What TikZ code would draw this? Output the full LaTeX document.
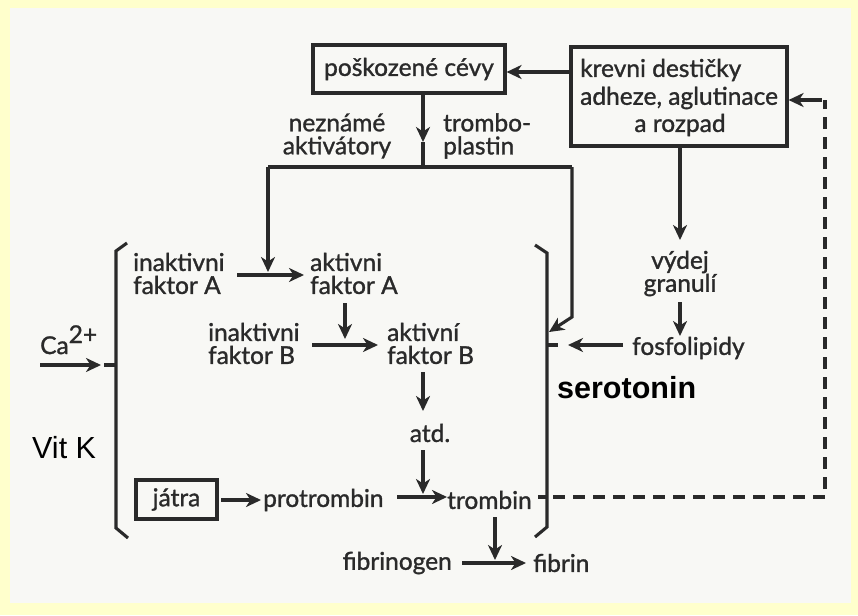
\documentclass[tikz,border=0pt]{standalone}
\usepackage{fontspec}
\setmainfont[FakeBold=1.2]{Lato}
\newfontfamily\arialfont{Liberation Sans}
\usetikzlibrary{arrows.meta}
\definecolor{ink}{HTML}{2A2A2A}
\definecolor{bordery}{HTML}{FFFFCC}
\definecolor{paper}{HTML}{F8F8F5}
\begin{document}
\begin{tikzpicture}[x=1pt,y=-1pt,
  ln/.style={line width=3.1pt, draw=ink},
  arr/.style={ln, -{Stealth[length=15pt,width=14pt,inset=4.5pt]}},
  txt/.style={text=ink, font=\fontsize{24.5}{23}\selectfont, inner sep=0pt},
  boxed/.style={ln, rectangle, inner sep=0pt},
  dsh/.style={ln, dash pattern=on 12pt off 8pt},
  bigtxt/.style={text=black, inner sep=0pt, font=\arialfont\fontsize{30.5}{32}\selectfont},
]
\useasboundingbox (0,0) rectangle (858,615);
\fill[bordery] (0,0) rectangle (858,615);
\fill[paper] (10,8) rectangle (851,603);

% boxes
\node[boxed, txt, minimum width=192pt, minimum height=48pt] (cevy) at (409,69) {poškozené cévy};
\node[boxed, minimum width=216pt, minimum height=99pt] (krev) at (679,96.5) {};
\node[txt, anchor=west] (k1) at (580,70) {krevni destičky};
\node[txt, anchor=west] (k2) at (580,98) {adheze, aglutinace};
\node[txt] (k3) at (680,125) {a rozpad};
\node[boxed, txt, minimum width=81pt, minimum height=39pt] (jatra) at (176.5,499.5) {játra};

% text nodes
\node[txt, align=center] (nez) at (337,136) {neznámé\\aktivátory};
\node[txt, align=left, anchor=west] (tromb) at (443,136) {trombo-\\plastin};
\node[txt, align=left, anchor=west] (inA) at (133,273.5) {inaktivni\\faktor A};
\node[txt, align=left, anchor=west] (akA) at (310,273.5) {aktivni\\faktor A};
\node[txt, align=left, anchor=west] (inB) at (208,343.5) {inaktivni\\faktor B};
\node[txt, align=left, anchor=west] (akB) at (387,343.5) {aktivní\\faktor B};
\node[txt] (atd) at (430,433) {atd.};
\node[txt, anchor=west] (protr) at (263,500) {protrombin};
\node[txt, anchor=west] (tromb2) at (447,500) {trombin};
\node[txt, anchor=east] (fgen) at (452,563) {fibrinogen};
\node[txt, anchor=west] (fib) at (533,563) {fibrin};
\node[txt, align=center] (vydej) at (680,273.5) {výdej\\granulí};
\node[txt, anchor=west] (fosfo) at (632,348) {fosfolipidy};
\node[bigtxt, anchor=west] (sero) at (557,388) {\bfseries serotonin};
\node[bigtxt, anchor=west] (vitk) at (32,448) {Vit K};
\node[txt, anchor=base west] (ca) at (40,354) {Ca\raisebox{11pt}{2+}};

% coordinates
\coordinate (jmid) at (423,142);
\coordinate (jtop) at (423,167);
\coordinate (jl) at (268,167);
\coordinate (jr) at (572,167);
\coordinate (jrb) at (572,317);
\coordinate (rbtip) at (549,332);
\coordinate (aAtip) at (268,272);
\coordinate (dcorner) at (825,497);
\coordinate (dtop) at (825,100);

% brackets
\draw[ln] (127,243) -- (116,251) -- (116,528) -- (128,538);
\draw[ln] (535,245) -- (547,253) -- (547,527) -- (535,537);
\draw[ln] (547,345) -- (558,345);
\draw[ln] (104,365) -- (116,365);
\draw[ln] (538,497) -- (547,497);

% connectors
\draw[arr] (krev.west |- 0,72) -- (cevy.east |- 0,72);
\draw[arr] (cevy.south -| jtop) -- (jmid);
\draw[ln] (jmid) -- (jtop);
\draw[ln] (jl) -- (jr);
\draw[arr] (jl) -- (aAtip);
\draw[arr] (jr) -- (jrb) -- (rbtip);
\draw[arr] (krev.south -| 680,0) -- (680,240);
\draw[arr] (680,302) -- (680,336);
\draw[arr] (623,345) -- (568,345);
\draw[arr] (237,275) -- (304,275);
\draw[arr] (345,303) -- (345,339);
\draw[arr] (312,345) -- (378,345);
\draw[arr] (423,372) -- (423,411);
\draw[arr] (423,450) -- (423,494);
\draw[arr] (221,500) -- (261,500);
\draw[arr] (397,497) -- (447,497);
\draw[arr] (495,517) -- (495,560);
\draw[arr] (462,563) -- (526,563);
\draw[arr] (40,365) -- (101,365);
\draw[dsh] (553,497) -- (dcorner) -- (dtop);
\draw[arr] (822,100) -- (krev.east |- 0,100);
\end{tikzpicture}
\end{document}
